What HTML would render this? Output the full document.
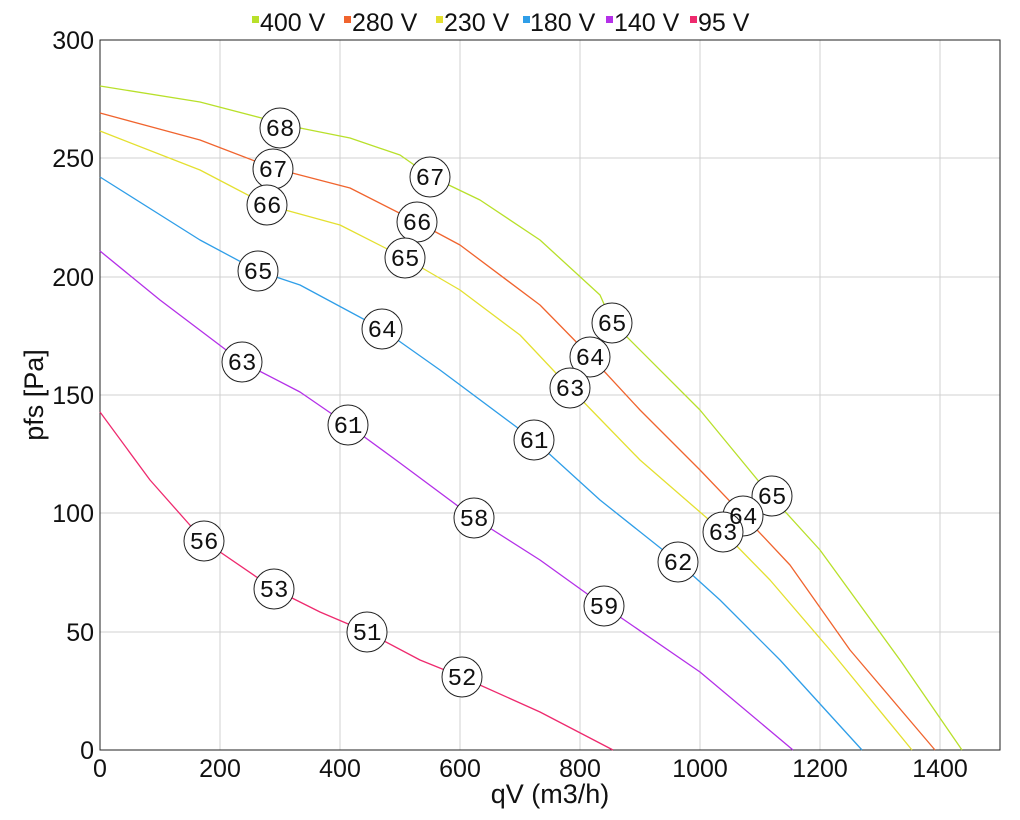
<!DOCTYPE html>
<html><head><meta charset="utf-8"><style>
body{margin:0;background:#fff;}
svg{display:block;font-family:"Liberation Sans",sans-serif;}
</style></head><body>
<svg width="1020" height="820" viewBox="0 0 1020 820">
<g stroke="#d0d0d0" stroke-width="1">
<line x1="220" y1="40" x2="220" y2="750"/><line x1="340" y1="40" x2="340" y2="750"/><line x1="460" y1="40" x2="460" y2="750"/><line x1="580" y1="40" x2="580" y2="750"/><line x1="700" y1="40" x2="700" y2="750"/><line x1="820" y1="40" x2="820" y2="750"/><line x1="940" y1="40" x2="940" y2="750"/>
<line x1="100" y1="158" x2="1000" y2="158"/><line x1="100" y1="277" x2="1000" y2="277"/><line x1="100" y1="395" x2="1000" y2="395"/><line x1="100" y1="513" x2="1000" y2="513"/><line x1="100" y1="632" x2="1000" y2="632"/>
</g>
<rect x="100" y="40" width="900" height="710" fill="none" stroke="#222" stroke-width="1"/>
<g font-size="25" fill="#111" text-anchor="end">
<text x="94" y="49">300</text><text x="94" y="167">250</text><text x="94" y="286">200</text><text x="94" y="404">150</text><text x="94" y="522">100</text><text x="94" y="641">50</text><text x="94" y="759">0</text>
</g>
<g font-size="25" fill="#111" text-anchor="middle">
<text x="100" y="777">0</text><text x="220" y="777">200</text><text x="340" y="777">400</text><text x="460" y="777">600</text><text x="580" y="777">800</text><text x="700" y="777">1000</text><text x="820" y="777">1200</text><text x="940" y="777">1400</text>
</g>
<text x="550" y="803" font-size="27" text-anchor="middle" fill="#111">qV (m3/h)</text>
<text transform="translate(43,395) rotate(-90)" font-size="27" text-anchor="middle" fill="#111">pfs [Pa]</text>
<g font-size="25" fill="#111">
<rect x="252" y="16" width="7" height="7" fill="#b8e02a"/><text x="260" y="31">400 V</text>
<rect x="344" y="16" width="7" height="7" fill="#f0642e"/><text x="352" y="31">280 V</text>
<rect x="436" y="16" width="7" height="7" fill="#e4e030"/><text x="444" y="31">230 V</text>
<rect x="523" y="16" width="7" height="7" fill="#2f9ee8"/><text x="530" y="31">180 V</text>
<rect x="606" y="16" width="7" height="7" fill="#b430e8"/><text x="614" y="31">140 V</text>
<rect x="690" y="16" width="7" height="7" fill="#ee2a6e"/><text x="698" y="31">95 V</text>
</g>
<g fill="none" stroke-width="1.3" stroke-linejoin="round">
<polyline stroke="#b8e02a" points="100,86 200,102 300,128 350,138 400,155 430,176 480,200 540,240 600,295 612,322 700,410 770,495 820,550 900,660 962,750"/>
<polyline stroke="#f0642e" points="100,113 200,140 273,168 350,188 417,222 460,245 540,305 590,356 640,410 700,470 743,515 790,565 850,650 935,750"/>
<polyline stroke="#e4e030" points="100,131 200,170 267,205 340,225 405,258 460,290 520,335 570,388 640,460 723,532 770,580 830,650 912,750"/>
<polyline stroke="#2f9ee8" points="100,177 200,240 258,271 300,285 382,329 440,370 534,440 600,500 678,562 720,600 780,660 862,750"/>
<polyline stroke="#b430e8" points="100,251 160,300 242,362 300,392 348,425 400,463 474,518 540,560 604,606 700,672 793,750"/>
<polyline stroke="#ee2a6e" points="100,412 150,480 204,541 274,589 320,612 367,632 420,660 462,677 540,712 613,750"/>
</g>
<g font-family="Liberation Mono,monospace" font-size="24" text-anchor="middle" fill="#111">
<g fill="#fff" stroke="#222" stroke-width="1">
<circle cx="280" cy="128" r="20"/><circle cx="430" cy="177" r="20"/><circle cx="612" cy="323" r="20"/><circle cx="772" cy="496" r="20"/>
<circle cx="273" cy="169" r="20"/><circle cx="417" cy="222" r="20"/><circle cx="590" cy="357" r="20"/><circle cx="743" cy="516" r="20"/>
<circle cx="267" cy="205" r="20"/><circle cx="405" cy="258" r="20"/><circle cx="570" cy="388" r="20"/><circle cx="723" cy="532" r="20"/>
<circle cx="258" cy="271" r="20"/><circle cx="382" cy="329" r="20"/><circle cx="534" cy="440" r="20"/><circle cx="678" cy="562" r="20"/>
<circle cx="242" cy="362" r="20"/><circle cx="348" cy="425" r="20"/><circle cx="474" cy="518" r="20"/><circle cx="604" cy="606" r="20"/>
<circle cx="204" cy="541" r="20"/><circle cx="274" cy="589" r="20"/><circle cx="367" cy="632" r="20"/><circle cx="462" cy="677" r="20"/>
</g>
<text x="280" y="136">68</text><text x="430" y="185">67</text><text x="612" y="331">65</text><text x="772" y="504">65</text>
<text x="273" y="177">67</text><text x="417" y="230">66</text><text x="590" y="365">64</text><text x="743" y="524">64</text>
<text x="267" y="213">66</text><text x="405" y="266">65</text><text x="570" y="396">63</text><text x="723" y="540">63</text>
<text x="258" y="279">65</text><text x="382" y="337">64</text><text x="534" y="448">61</text><text x="678" y="570">62</text>
<text x="242" y="370">63</text><text x="348" y="433">61</text><text x="474" y="526">58</text><text x="604" y="614">59</text>
<text x="204" y="549">56</text><text x="274" y="597">53</text><text x="367" y="640">51</text><text x="462" y="685">52</text>
</g>
</svg>
</body></html>
